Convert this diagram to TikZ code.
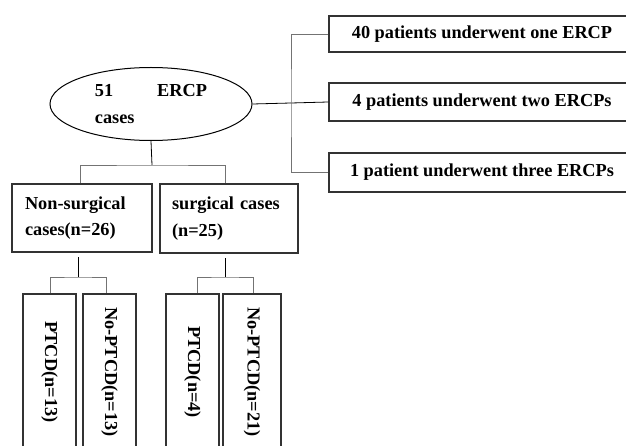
\documentclass[tikz,border=0pt]{standalone}
\usepackage{fontspec}
\setmainfont{Liberation Serif}
\usetikzlibrary{calc,shapes.geometric}

\begin{document}
\begin{tikzpicture}[x=1pt, y=-1pt,
    font=\fontsize{18.3}{26.5}\selectfont\bfseries,
    box/.style={draw=black!80, line width=1.4pt, inner sep=0pt},
    casebox/.style={box, minimum width=#1, minimum height=68pt, text width=114pt, align=left},
    tallbox/.style={box, rotate=-90, minimum width=156pt, minimum height=#1},
    link/.style={black, line width=0.8pt},
    glink/.style={black!55, line width=0.8pt}]

\clip (0,0) rectangle (626,446);
\fill[white] (0,0) rectangle (626,446);

% elipse central
\node[draw=black, line width=1pt, ellipse, minimum width=202pt, minimum height=73pt,
      inner sep=0pt, align=left] (root) at (151,104) {51\hspace{44pt}ERCP\\cases};

% caixas da direita
\node[box, minimum width=306pt, minimum height=36pt] (once) at (482,34) {40 patients underwent one ERCP};
\node[box, minimum width=306pt, minimum height=38pt] (twice) at (482,102) {4 patients underwent two ERCPs};
\node[box, minimum width=306pt, minimum height=39pt] (thrice) at (482,172.5) {1 patient underwent three ERCPs};

\coordinate (rj) at (291,103);
\draw[link] (root.east) -- (rj);
\draw[link] (rj) -- (twice.west);
\draw[glink] (once.west) -| (rj) |- (thrice.west);

% casos
\node[casebox=140pt] (nonsurg) at (82,218) {Non-surgical\\cases(n=26)};
\node[casebox=138pt, minimum height=69pt] (surg) at (229,218.5) {surgical cases\\(n=25)};

\coordinate (mj) at (152,165);
\draw[link] (root.south) -- (mj);
\draw[glink] (nonsurg.north -| 80,0) |- (mj) -| (surg.north -| 225,0);

% PTCD
\node[tallbox=53pt] (ptcdA) at (49.5,372) {PTCD(n=13)};
\node[tallbox=53pt] (noptcdA) at (109.5,372) {No-PTCD(n=13)};
\node[tallbox=53pt] (ptcdB) at (192.5,372) {PTCD(n=4)};
\node[tallbox=58pt] (noptcdB) at (252,372) {No-PTCD(n=21)};

\coordinate (nj) at (78,277);
\draw[link, shorten >=4pt] (nj) -- (nj |- nonsurg.south);
\draw[glink] (ptcdA.west -| 50,0) |- (nj) -| (noptcdA.west -| 106,0);

\coordinate (sj) at (225,277);
\draw[link, shorten >=4pt] (sj) -- (sj |- surg.south);
\draw[glink] (ptcdB.west -| 197,0) |- (sj) -| (noptcdB.west -| 253,0);

\end{tikzpicture}
\end{document}
